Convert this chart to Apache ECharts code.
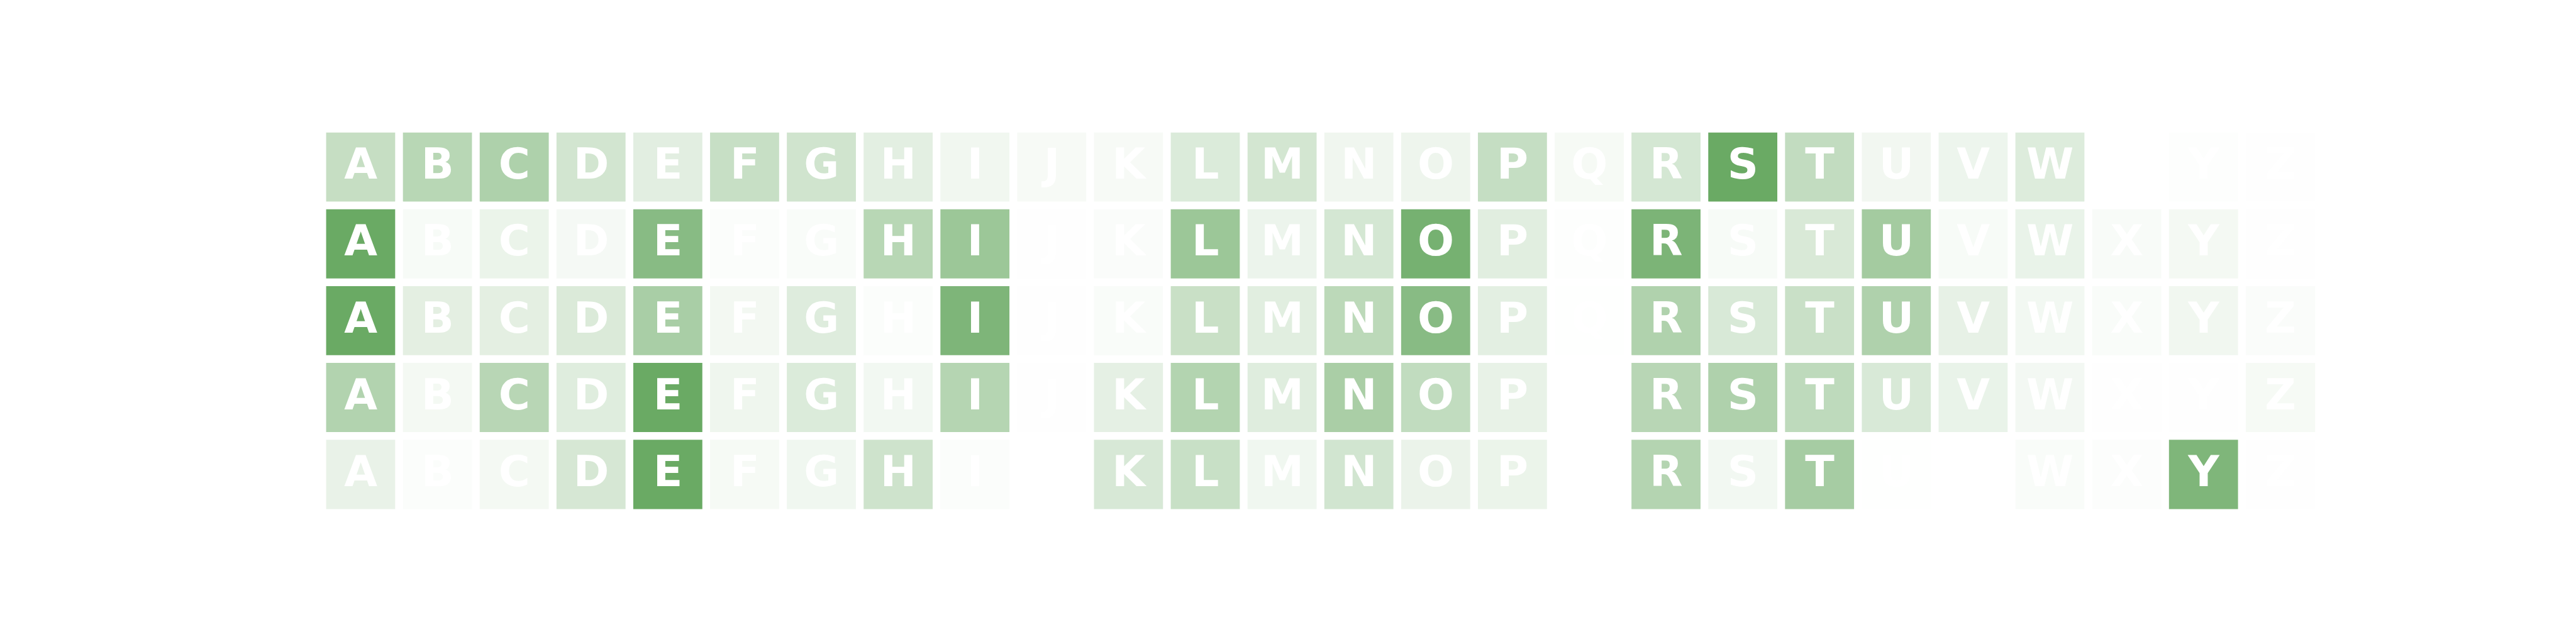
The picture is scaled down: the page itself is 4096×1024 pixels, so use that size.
<!DOCTYPE html>
<html>
<head>
<meta charset="utf-8">
<script src="https://cdn.jsdelivr.net/npm/echarts@6/dist/echarts.min.js"></script>
<style>
html,body{margin:0;padding:0;background:#ffffff;}
#chart{width:4096px;height:1024px;}
</style>
</head>
<body>
<div id="chart"></div>
<script>
// Letters (columns) and letter positions (rows)
const letters = ['A','B','C','D','E','F','G','H','I','J','K','L','M','N','O','P','Q','R','S','T','U','V','W','X','Y','Z'];
const positions = ['1','2','3','4','5'];

// Counts per letter (A..Z) for each position
const pos1 = [141,173,198,111,72,136,115,69,34,20,20,88,107,37,41,142,23,105,366,149,33,43,83,0,6,3];
const pos2 = [304,16,40,20,242,8,12,144,201,2,10,201,38,87,279,61,5,267,16,77,186,15,44,14,23,2];
const pos3 = [307,57,56,75,177,25,67,9,266,3,12,112,61,139,244,58,1,163,80,111,165,49,26,12,29,11];
const pos4 = [163,24,152,69,318,35,76,28,158,2,55,162,68,182,132,50,0,152,171,139,82,46,25,3,3,20];
const pos5 = [64,11,31,118,424,26,41,139,11,0,113,156,42,130,58,56,0,212,36,253,1,0,17,8,364,4];

const rows = [pos1, pos2, pos3, pos4, pos5];

const S = 4096 / 6000;
const data = [];
rows.forEach((row, r) => {
  const mx = Math.max.apply(null, row);
  row.forEach((v, c) => {
    const a = mx > 0 ? v / mx : 0;
    data.push({
      value: [c, r, v],
      itemStyle: { color: 'rgba(106,170,100,' + a.toFixed(4) + ')' }
    });
  });
});

const chart = echarts.init(document.getElementById('chart'), null, { renderer: 'canvas' });
chart.setOption({
  backgroundColor: '#ffffff',
  animation: false,
  grid: {
    left: 751 * S,
    top: 300 * S,
    width: (5401 - 751) * S,
    height: (1194.6 - 300) * S,
    containLabel: false
  },
  xAxis: {
    type: 'category',
    data: letters,
    show: false
  },
  yAxis: {
    type: 'category',
    data: positions,
    inverse: true,
    show: false
  },
  series: [{
    type: 'heatmap',
    data: data,
    itemStyle: {
      borderColor: '#ffffff',
      borderWidth: 18 * S
    },
    label: {
      show: true,
      color: '#ffffff',
      fontFamily: 'DejaVu Sans',
      fontWeight: 'bold',
      fontSize: 100 * S,
      offset: [0, 0.7],
      formatter: function (p) { return letters[p.value[0]]; }
    },
    emphasis: { disabled: true }
  }]
});
</script>
</body>
</html>
